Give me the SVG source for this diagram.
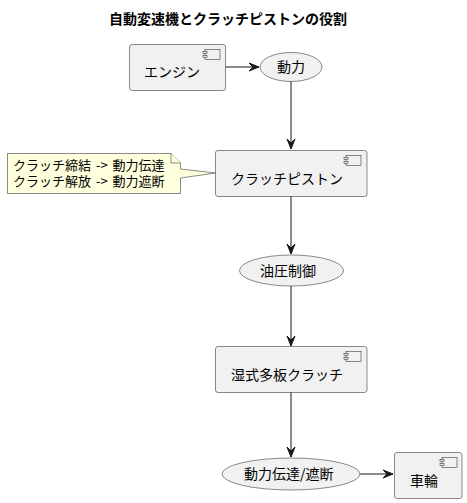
<svg xmlns="http://www.w3.org/2000/svg" width="467" height="503" viewBox="0 0 467 503">
<style>
text{font-family:"Noto Sans CJK JP","Noto Sans",sans-serif;fill:#000}
.t{font-size:14px;font-weight:bold}
.n{font-size:14px}
.s{font-size:13px;word-spacing:2px}
.box{fill:#F1F1F1;stroke:#181818;stroke-width:0.5}
.ico{fill:#F1F1F1;stroke:#181818;stroke-width:0.5}
.note{fill:#FEFFDD;stroke:#181818;stroke-width:0.5}
.ln{stroke:#181818;stroke-width:1;fill:none}
.ah{fill:#181818;stroke:#181818;stroke-width:1}
</style>
<defs>
<g id="icon">
<rect class="ico" x="0" y="0" width="15" height="10"/>
<rect class="ico" x="-2" y="2" width="4" height="2"/>
<rect class="ico" x="-2" y="6" width="4" height="2"/>
</g>
</defs>
<text class="t" x="228" y="24" text-anchor="middle">自動変速機とクラッチピストンの役割</text>
<g id="connectors">
<path class="ln" d="M225.5,67 L259,67"/>
<polygon class="ah" points="259,67 249,63 253,67 249,71"/>
<path class="ln" d="M291,81 L291,149"/>
<polygon class="ah" points="291,149 287,139 291,143 295,139"/>
<path class="ln" d="M291,196 L291,254"/>
<polygon class="ah" points="291,254 287,244 291,248 295,244"/>
<path class="ln" d="M291,286 L291,346"/>
<polygon class="ah" points="291,346 287,336 291,340 295,336"/>
<path class="ln" d="M291,392 L291,457"/>
<polygon class="ah" points="291,457 287,447 291,451 295,447"/>
<path class="ln" d="M360,474 L393,474"/>
<polygon class="ah" points="393,474 383,470 387,474 383,478"/>
</g>
<g id="engine">
<rect class="box" x="129.5" y="44.5" width="96" height="46" rx="2.5"/>
<use href="#icon" x="205" y="49.5"/>
<text class="n" x="144" y="77">エンジン</text>
</g>
<g id="power">
<ellipse class="box" cx="291" cy="67" rx="31" ry="14.5"/>
<text class="n" x="277" y="72">動力</text>
</g>
<g id="note">
<path class="note" d="M7.5,153.5 L171,153.5 L180.5,163 L180.5,169 L215.5,173 L180.5,178 L180.5,193.5 L7.5,193.5 Z"/>
<path class="note" d="M171,153.5 L171,163 L180.5,163"/>
<text class="s"><tspan x="13" y="170">クラッチ締結 -&gt; 動力伝達</tspan><tspan x="13" y="185.5">クラッチ解放 -&gt; 動力遮断</tspan></text>
</g>
<g id="piston">
<rect class="box" x="215.5" y="150.5" width="151.5" height="46" rx="2.5"/>
<use href="#icon" x="346" y="155.5"/>
<text class="n" x="231" y="184">クラッチピストン</text>
</g>
<g id="hydraulic">
<ellipse class="box" cx="291.5" cy="270.5" rx="52" ry="15.5"/>
<text class="n" x="260" y="275.5">油圧制御</text>
</g>
<g id="clutch">
<rect class="box" x="215.5" y="346.5" width="151.5" height="46" rx="2.5"/>
<use href="#icon" x="346" y="351.5"/>
<text class="n" x="231" y="380">湿式多板クラッチ</text>
</g>
<g id="transfer">
<ellipse class="box" cx="291" cy="474" rx="69" ry="16"/>
<text class="n" x="244" y="479">動力伝達/遮断</text>
</g>
<g id="wheel">
<rect class="box" x="394.5" y="452.5" width="67.5" height="46" rx="2.5"/>
<use href="#icon" x="442" y="457.5"/>
<text class="n" x="410" y="486">車輪</text>
</g>
</svg>
